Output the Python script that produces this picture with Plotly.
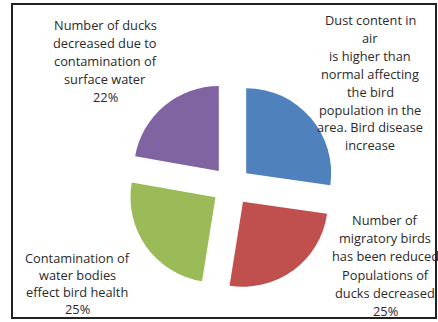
import plotly.graph_objects as go

# ---- data ----
categories = [
    "Dust content in<br>air<br>is higher than<br>normal affecting<br>the bird<br>population in the<br>area. Bird disease<br>increase",
    "Number of<br>migratory birds<br>has been reduced<br>Populations of<br>ducks decreased",
    "Contamination of<br>water bodies<br>effect bird health",
    "Number of ducks<br>decreased due to<br>contamination of<br>surface water",
]
values = [27, 25, 25, 22]
show_pct = [False, True, True, True]
colors = ["#4F81BD", "#C0504D", "#9BBB59", "#8064A2"]

# ---- layout constants (pixels) ----
W, H = 438, 322
label_pos = [  # (center x, first line y, line step)
    (370, 20, 17.9),
    (385, 220, 18.2),
    (77, 258, 17.0),
    (105, 25, 18.0),
]

fig = go.Figure(go.Pie(
    labels=[c.replace("<br>", " ") for c in categories],
    values=values,
    sort=False,
    direction="clockwise",
    rotation=0,
    pull=[0.23] * len(values),
    marker=dict(colors=colors, line=dict(width=0)),
    textinfo="none",
    hoverinfo="label+percent",
    domain=dict(x=[0.2896, 0.7670], y=[0.0977, 0.7471]),
    showlegend=False,
))

total = sum(values)
annotations = []
for cat, v, sp, (xc, y0, step) in zip(categories, values, show_pct, label_pos):
    lines = cat.split("<br>")
    if sp:
        lines.append(f"{round(v / total * 100)}%")
    for i, ln in enumerate(lines):
        y = y0 + i * step
        annotations.append(dict(
            x=xc / W, y=1 - y / H, xref="paper", yref="paper",
            text=ln, showarrow=False, xanchor="center", yanchor="middle",
            font=dict(family="Open Sans", size=12.8, color="#2a2a2a"),
        ))

fig.update_layout(
    width=W, height=H,
    margin=dict(l=0, r=0, t=0, b=0),
    paper_bgcolor="white",
    plot_bgcolor="white",
    annotations=annotations,
    shapes=[dict(
        type="rect", xref="paper", yref="paper",
        x0=12 / W, x1=436 / W, y0=1 - 318 / H, y1=1 - 4 / H,
        line=dict(color="#222222", width=2), fillcolor="rgba(0,0,0,0)",
    )],
)

fig.write_html("out.html")
